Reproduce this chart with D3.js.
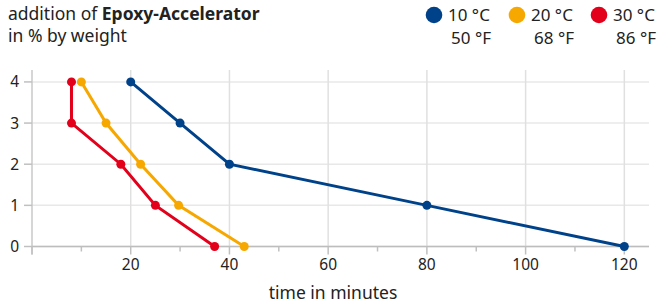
<!DOCTYPE html>
<meta charset="utf-8">
<head>
  <title>Epoxy accelerator</title>
  <style>
    body { margin: 0; background: #fff; }
    text { font-family: "Noto Sans", sans-serif; fill: #222; }
  </style>
</head>
<body>
<script src="https://d3js.org/d3.v7.min.js"></script>
<script>

// minutes until cured, per accelerator amount (% by weight)
const amounts = [4, 3, 2, 1, 0];
const time10 = [20, 30, 40, 80, 120];
const time20 = [10, 15, 22, 29.7, 43];
const time30 = [8, 8, 18, 25, 37];

const legendC = ["10 °C", "20 °C", "30 °C"];
const legendF = ["50 °F", "68 °F", "86 °F"];
const colors = ["#00428a", "#f7a800", "#e3001b"];

const xTicks = [0, 10, 20, 30, 40, 50, 60, 70, 80, 90, 100, 110, 120];
const yTicks = [0, 1, 2, 3, 4];

const series = [time10, time20, time30].map((t, i) => ({
  color: colors[i],
  points: t.map((v, j) => ({ time: v, amount: amounts[j] }))
}));

const totalWidth = 658, totalHeight = 304;

const svg = d3.select("body")
  .append("svg")
  .attr("width", totalWidth)
  .attr("height", totalHeight);

const x = d3.scaleLinear()
  .domain([0, 125])
  .range([32, 649]);

const y = d3.scaleLinear()
  .domain([0, 4.29])
  .range([246.5, 70]);

// grid
svg.append("g")
  .selectAll("line")
  .data(yTicks)
  .join("line")
  .attr("x1", x(0)).attr("x2", x(125))
  .attr("y1", d => y(d)).attr("y2", d => y(d))
  .style("stroke", "#e8e8e8")
  .style("stroke-width", 1.5);

svg.append("g")
  .selectAll("line")
  .data(xTicks.filter(d => d % 20 == 0 && d > 0))
  .join("line")
  .attr("x1", d => x(d)).attr("x2", d => x(d))
  .attr("y1", y(4.29)).attr("y2", y(0))
  .style("stroke", "#e0e0e0")
  .style("stroke-width", 1.5);

// axes
svg.append("line")
  .attr("x1", x(0)).attr("x2", x(0))
  .attr("y1", y(4.29)).attr("y2", y(0) + 8)
  .style("stroke", "#c8c8c8").style("stroke-width", 1.5);

svg.append("line")
  .attr("x1", x(0)).attr("x2", x(125))
  .attr("y1", y(0)).attr("y2", y(0))
  .style("stroke", "#bdbdbd").style("stroke-width", 1.5);

svg.append("g")
  .selectAll("line")
  .data(xTicks)
  .join("line")
  .attr("x1", d => x(d)).attr("x2", d => x(d))
  .attr("y1", y(0)).attr("y2", d => y(0) + (d % 20 == 0 ? 8 : 5))
  .style("stroke", "#c0c0c0").style("stroke-width", 1.5);

svg.append("g")
  .selectAll("line")
  .data(yTicks)
  .join("line")
  .attr("x1", x(0) - 8).attr("x2", x(0))
  .attr("y1", d => y(d)).attr("y2", d => y(d))
  .style("stroke", "#c0c0c0").style("stroke-width", 1.5);

svg.append("g")
  .selectAll("text")
  .data(yTicks)
  .join("text")
  .attr("x", 19)
  .attr("y", d => y(d) + 5.5)
  .attr("text-anchor", "end")
  .style("font-size", "15.5px")
  .text(d => d);

svg.append("g")
  .selectAll("text")
  .data(xTicks.filter(d => d % 20 == 0 && d > 0))
  .join("text")
  .attr("x", d => x(d))
  .attr("y", 270)
  .attr("text-anchor", "middle")
  .style("font-size", "15.5px")
  .text(d => d);

svg.append("text")
  .attr("x", 333)
  .attr("y", 299)
  .attr("text-anchor", "middle")
  .style("font-size", "17.5px")
  .text("time in minutes");

// title
const title = svg.append("text")
  .attr("x", 8)
  .attr("y", 20)
  .style("font-size", "17.5px");
title.append("tspan").text("addition of ");
title.append("tspan").style("font-weight", "bold").text("Epoxy-Accelerator");

svg.append("text")
  .attr("x", 8)
  .attr("y", 42)
  .style("font-size", "17.5px")
  .text("in % by weight");

// legend
const legendX = [434, 517, 599];
const legend = svg.append("g")
  .selectAll("g")
  .data(legendC)
  .join("g")
  .attr("transform", (d, i) => "translate(" + legendX[i] + ",15)");

legend.append("circle")
  .attr("r", 8.3)
  .style("fill", (d, i) => colors[i]);

legend.append("text")
  .attr("x", 14)
  .attr("y", 6)
  .style("font-size", "17px")
  .text(d => d);

legend.append("text")
  .attr("x", 57)
  .attr("y", 29)
  .attr("text-anchor", "end")
  .style("font-size", "17px")
  .text((d, i) => legendF[i]);

// lines
const line = d3.line()
  .x(d => x(d.time))
  .y(d => y(d.amount));

const s = svg.append("g")
  .selectAll("g")
  .data(series)
  .join("g");

s.append("path")
  .attr("d", d => line(d.points))
  .style("fill", "none")
  .style("stroke", d => d.color)
  .style("stroke-width", 3);

s.selectAll("circle")
  .data(d => d.points.map(p => ({ ...p, color: d.color })))
  .join("circle")
  .attr("cx", d => x(d.time))
  .attr("cy", d => y(d.amount))
  .attr("r", 4.5)
  .style("fill", d => d.color);

</script>
</body>
</html>
